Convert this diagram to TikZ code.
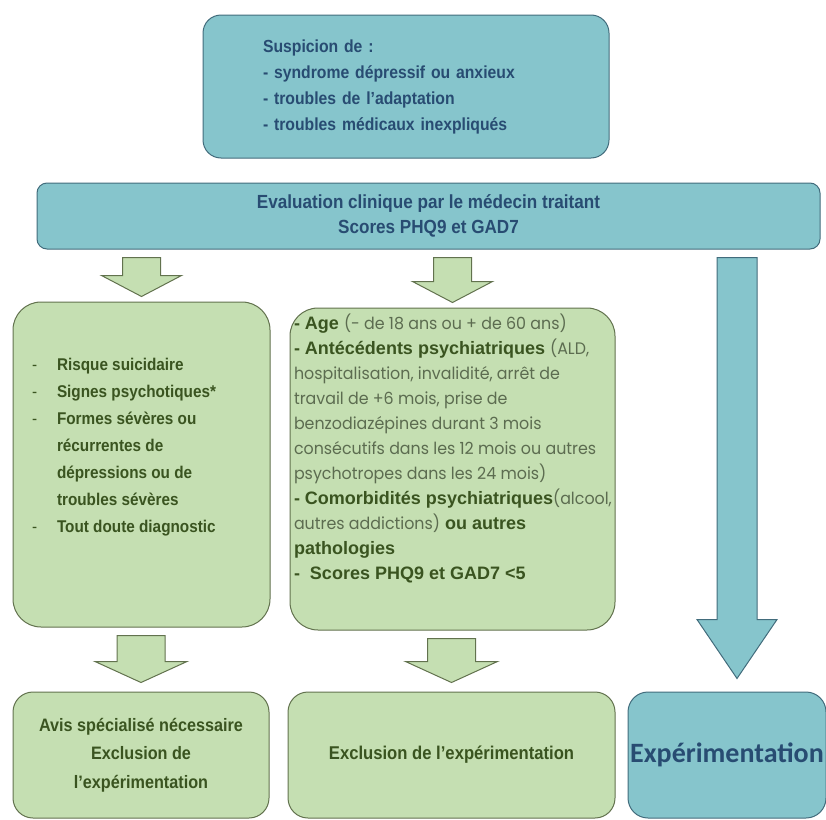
\documentclass[tikz,border=0pt]{standalone}
\usepackage{fontspec}
\setmainfont[FakeStretch=0.9]{Liberation Sans}
\newfontfamily\midfont{Liberation Sans}
\newfontfamily\lightfont[FakeStretch=0.95]{Poppins}
\newfontfamily\calfont{Carlito}
\usetikzlibrary{positioning}
\usetikzlibrary{calc}
\definecolor{tealfill}{RGB}{134,197,204}
\definecolor{tealline}{RGB}{66,108,124}
\definecolor{bluetext}{RGB}{40,76,114}
\definecolor{greenfill}{RGB}{197,223,178}
\definecolor{greenline}{RGB}{98,114,78}
\definecolor{greentext}{RGB}{58,84,32}
\definecolor{lighttext}{RGB}{92,108,80}
\tikzset{every picture/.style={line width=1pt},
blockarrow/.style n args={5}{to path={let \p1=(\tikztostart), \p2=(\tikztotarget) in
(\x2-#1,\y1-#4) -- (\x2+#1,\y1-#4) -- (\x2+#1,\y2+#5+#3) -- (\x2+#2,\y2+#5+#3) -- (\x2,\y2+#5) -- (\x2-#2,\y2+#5+#3) -- (\x2-#1,\y2+#5+#3) -- cycle}}}
\newcommand{\dashitem}{\makebox[25pt][l]{\mdseries -}}
\newcommand{\lt}[1]{{\lightfont\mdseries\color{lighttext}\fontsize{16.7}{25}\selectfont #1}}

\begin{document}
\begin{tikzpicture}[x=1pt,y=1pt,
bbox/.style={draw=tealline,fill=tealfill,rounded corners=#1,inner sep=0pt},
gbox/.style={draw=greenline,fill=greenfill,rounded corners=#1,inner sep=0pt},
btxt/.style={text=bluetext,font=\bfseries\fontsize{17.5}{26}\selectfont},
gtxt/.style={text=greentext,font=\bfseries\fontsize{17}{27}\selectfont},
garrow/.style={draw=greenline,fill=greenfill},
barrow/.style={draw=tealline,fill=tealfill}]
\useasboundingbox (0,0) rectangle (826,-819);
\node (susp) at (406,-86.5) [bbox=18pt, minimum width=406pt, minimum height=143pt, btxt, align=left, text width=286pt] {Suspicion de :\\- syndrome dépressif ou anxieux\\- troubles de l’adaptation\\- troubles médicaux inexpliqués};
\node (eval) at (428.5,-216) [bbox=10pt, minimum width=783pt, minimum height=66pt, btxt, font=\bfseries\fontsize{19}{25}\selectfont, align=center] {Evaluation clinique par le médecin traitant\\Scores PHQ9 et GAD7};
\node (lbox) at (141.5,-464.5) [gbox=28pt, minimum width=257pt, minimum height=325pt] {};
\node (mbox) at (452.5,-469) [gbox=28pt, minimum width=325pt, minimum height=322pt] {};
\node (lres) at (141,-755) [gbox=20pt, minimum width=256pt, minimum height=126pt, gtxt, font=\bfseries\fontsize{18}{28.5}\selectfont, align=center] {Avis spécialisé nécessaire\\Exclusion de\\l’expérimentation};
\node (mres) at (451.5,-755) [gbox=20pt, minimum width=327pt, minimum height=126pt, gtxt, font=\bfseries\fontsize{18.5}{28.5}\selectfont] {Exclusion de l’expérimentation};
\node (rres) at (727,-755) [bbox=20pt, minimum width=198pt, minimum height=126pt, text=bluetext, font=\calfont\bfseries\fontsize{28}{30}\selectfont] {Expérimentation};
\node (ltxt) at ($(lbox.north west)+(19,-56)$) [anchor=north west, gtxt, align=left, inner sep=0pt] {\dashitem Risque suicidaire\\
\dashitem Signes psychotiques*\\
\dashitem Formes sévères ou\\
\hspace*{25pt}récurrentes de\\
\hspace*{25pt}dépressions ou de\\
\hspace*{25pt}troubles sévères\\
\dashitem Tout doute diagnostic};
\node (mtxt) at ($(mbox.north west)+(4,-6)$) [anchor=north west, gtxt, font=\midfont\bfseries\fontsize{18}{25}\selectfont, align=left, inner sep=0pt] {- Age \lt{(- de 18 ans ou + de 60 ans)}\\
- Antécédents psychiatriques \lt{(ALD,}\\
\lt{hospitalisation, invalidité, arrêt de}\\
\lt{travail de +6 mois, prise de}\\
\lt{benzodiazépines durant 3 mois}\\
\lt{consécutifs dans les 12 mois ou autres}\\
\lt{psychotropes dans les 24 mois)}\\
- Comorbidités psychiatriques\lt{(alcool,}\\
\lt{autres addictions)} ou autres\\
pathologies\\
-~ Scores PHQ9 et GAD7 <5};
\foreach \b in {lbox,mbox} {
\draw[garrow, blockarrow={19}{40}{21}{8}{5}] (eval.south -| \b) to (\b.north);
}
\foreach \a/\b in {lbox/lres,mbox/mres} {
\draw[garrow, blockarrow={24}{46}{21}{8}{9}] (\a.south) to (\b.north);
}
\draw[barrow, blockarrow={20}{40}{59}{8}{13}] (eval.south -| rres) to ($(rres.north)+(10,0)$);
\end{tikzpicture}
\end{document}
